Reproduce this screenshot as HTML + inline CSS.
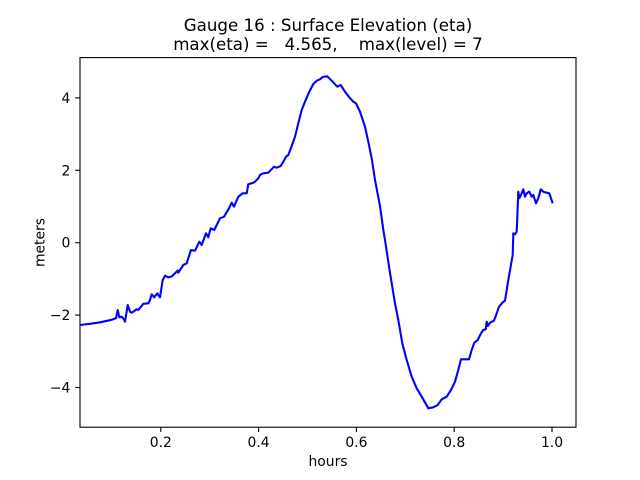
<!DOCTYPE html>
<html>
<head>
<meta charset="utf-8">
<style>
html,body{margin:0;padding:0;background:#fff;}
svg{display:block;}
text{font-family:"DejaVu Sans","Liberation Sans",sans-serif;fill:#000;}
</style>
</head>
<body>
<svg width="640" height="480" viewBox="0 0 640 480" xmlns="http://www.w3.org/2000/svg">
<rect x="0" y="0" width="640" height="480" fill="#fff"/>
<!-- title -->
<text x="328" y="31" font-size="16.67" text-anchor="middle">Gauge 16 : Surface Elevation (eta)</text>
<text x="328" y="50" font-size="16.67" text-anchor="middle" style="white-space:pre" xml:space="preserve">max(eta) =   4.565,    max(level) = 7</text>

<!-- data line -->
<clipPath id="c"><rect x="80" y="57.6" width="496" height="369.6"/></clipPath>
<polyline clip-path="url(#c)" fill="none" stroke="#0000ff" stroke-width="2.1" stroke-linejoin="round" stroke-linecap="butt" points="
80,325 90,323.8 100,322.3 110,320.2 116,318.3 117.7,310 119.3,317.3 121.7,316.7 124,319.3 125,321.7 127.7,305 130,311.7 131.7,312.7 136.7,309.3 138.3,310 143.3,303.8 148.3,303.3 150,300 151.7,294.3 154.3,297.3 157.3,293.3 160,297.3 162.7,280 165,275.7 168.3,277.3 171.7,276.5 175,273.3 177.7,270.5 178.3,272.7 183.3,265 186.7,263.3 191,250 195,250.7 199.3,241.7 201.7,245 206,233.3 208.3,237.3 210.7,228.3 214.3,230 220,218.3 224,216.7 229,208.3 231.7,202.7 234,206.7 238.3,196.7 242.7,193.3 246.7,193.3 248.3,184.3 253.3,182.7 255,181.7 258.3,178.3 260,175 261.7,174 263.3,173.3 268.3,172.7 274,166.7 276.7,167.7 280.7,166 283.3,161.7 286,156.7 288.3,155 291.7,146 295,136.7 298.3,123.3 301.7,110 305,101.7 309.3,91.7 313.3,84 316.7,80.7 320,79.3 322.7,77 327.3,76.3 331.7,80.7 337.3,86.7 340.7,85 345,91.7 349.3,97.3 353.3,101.7 356,103.3 360,111.7 365,126.7 368.3,141.7 372,160 375,180 380,206 383.3,230 385,240 390,272.8 395,303.3 398.3,320 402.3,343.3 406.7,360 411.7,376.7 416.7,388.3 421.7,396.7 428.3,408.3 433.3,407.3 437.7,405 441.7,399.3 446.7,396.7 451,390 455,381.7 458.3,370 461,359.3 465,359.3 469,359.3 471.7,350 474.3,342.7 477.7,340 481,333.3 483.3,330 485.7,329.3 486.7,321.7 487.7,326 490,322.7 494,320.7 496.7,313.3 499,306.7 503.3,301.7 505,300.7 508.3,280 512.7,255 513.3,233.3 515,234.3 516.7,231.7 518.3,191.7 519.3,198.3 521,195 523.3,189.3 525,196.7 526.7,193.3 529.3,191.7 531.7,196.7 533.3,195 536,203.3 538.3,198.3 540.7,189.3 543.3,191.7 546.7,192.7 549.3,193.3 551,198.3 552.7,203.3"/>

<!-- axes frame -->
<rect x="80" y="57.6" width="496" height="369.6" fill="none" stroke="#000" stroke-width="1.1"/>

<!-- x ticks -->
<g stroke="#000" stroke-width="1.1">
<line x1="160.8" y1="427.2" x2="160.8" y2="432"/>
<line x1="258.6" y1="427.2" x2="258.6" y2="432"/>
<line x1="356.4" y1="427.2" x2="356.4" y2="432"/>
<line x1="454.2" y1="427.2" x2="454.2" y2="432"/>
<line x1="552" y1="427.2" x2="552" y2="432"/>
</g>
<g font-size="13.9" text-anchor="middle">
<text x="160.8" y="447">0.2</text>
<text x="258.6" y="447">0.4</text>
<text x="356.4" y="447">0.6</text>
<text x="454.2" y="447">0.8</text>
<text x="552" y="447">1.0</text>
</g>
<text x="328" y="466" font-size="13.9" text-anchor="middle">hours</text>

<!-- y ticks -->
<g stroke="#000" stroke-width="1.1">
<line x1="75.2" y1="97.9" x2="80" y2="97.9"/>
<line x1="75.2" y1="170.3" x2="80" y2="170.3"/>
<line x1="75.2" y1="242.7" x2="80" y2="242.7"/>
<line x1="75.2" y1="315.1" x2="80" y2="315.1"/>
<line x1="75.2" y1="387.5" x2="80" y2="387.5"/>
</g>
<g font-size="13.9" text-anchor="end">
<text x="70.3" y="102.9">4</text>
<text x="70.3" y="175.3">2</text>
<text x="70.3" y="247.7">0</text>
<text x="70.3" y="320.1">−2</text>
<text x="70.3" y="392.5">−4</text>
</g>
<text x="44.5" y="242.5" font-size="13.9" text-anchor="middle" transform="rotate(-90 44.5 242.5)">meters</text>
</svg>
</body>
</html>
